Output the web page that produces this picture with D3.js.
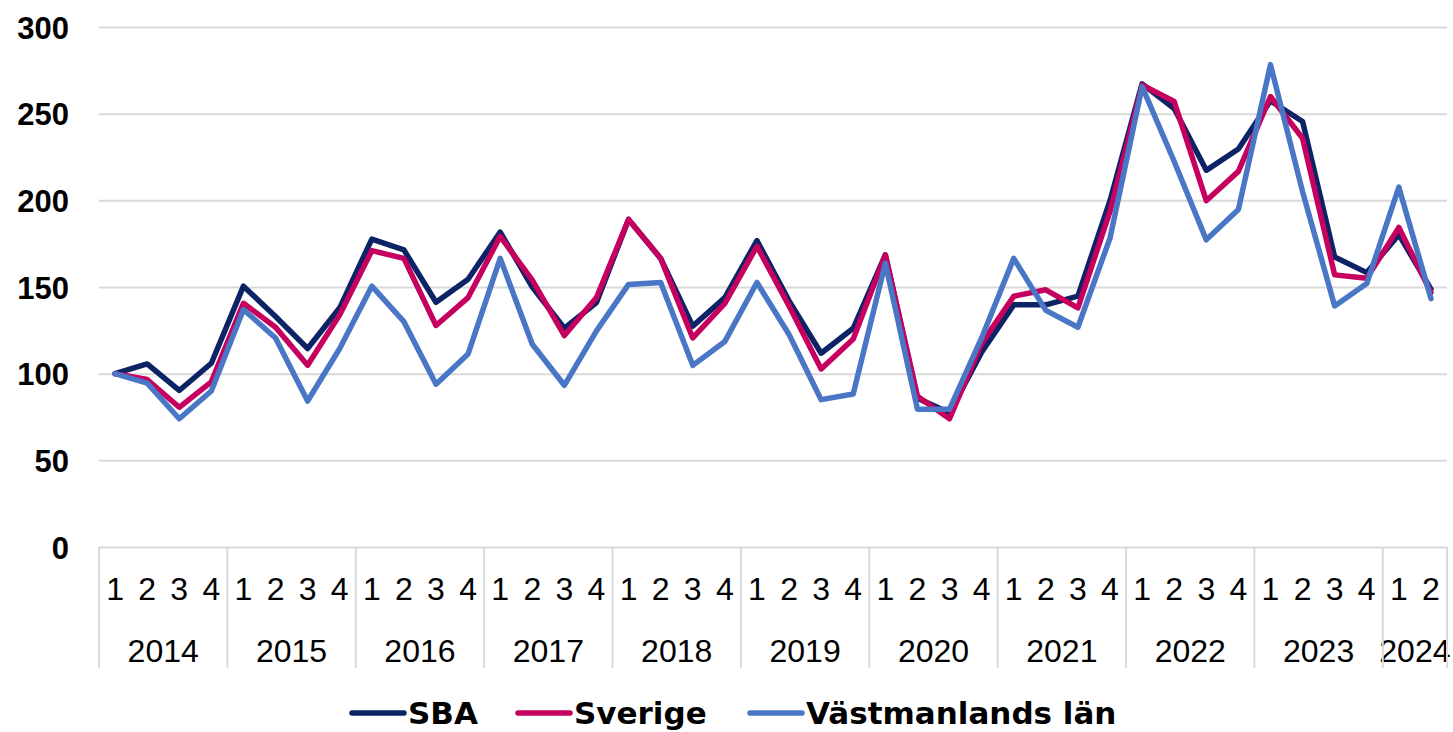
<!DOCTYPE html>
<html lang="sv">
<head>
  <meta charset="UTF-8">
  <title>SBA, Sverige, Västmanlands län</title>
  <script src="https://d3js.org/d3.v7.min.js"></script>
  <style>
    body { margin: 0; padding: 0; background: #fff; }
    svg { display: block; }
    .ylab { font-family: "Liberation Sans", Arial, sans-serif; font-weight: bold; font-size: 31px; fill: #000; }
    .xlab { font-family: "Liberation Sans", Arial, sans-serif; font-size: 32px; fill: #000; }
    .leg { font-family: "DejaVu Sans", sans-serif; font-weight: bold; font-size: 31px; fill: #000; }
  </style>
</head>
<body>
  <svg width="1453" height="732"></svg>
  <script>
    // years and quarter labels on the category axis
    const years = ["2014", "2015", "2016", "2017", "2018", "2019", "2020", "2021", "2022", "2023", "2024"];
    const quartersInYear = [4, 4, 4, 4, 4, 4, 4, 4, 4, 4, 2];
    const yTicks = [0, 50, 100, 150, 200, 250, 300];

    const sba = [100, 105.6, 90.3, 106, 150.5, 133, 114.5, 138, 177.6, 171.4, 141.2, 154.5,
      181.7, 150, 126.2, 141, 189, 166.5, 127.4, 143.9, 176.8, 142, 111.8, 126.2,
      168.5, 85.8, 77.4, 112.4, 139.7, 139.7, 144.7, 199.8, 267.2, 253, 217.3, 229.6,
      257.4, 245.5, 167.3, 158.3, 180.2, 148.8];
    const sverige = [100, 96.6, 80.6, 95.3, 140.6, 126.8, 104.8, 134, 171, 166.5, 127.8, 143.9,
      179.2, 154, 122, 143.9, 189, 166.5, 120.6, 140.6, 173.5, 139, 102.7, 120,
      168.5, 87, 74, 117.5, 144.7, 148.4, 138, 193.6, 266.5, 257, 199.8, 216.7,
      259.9, 235.8, 157, 155, 184.4, 146.8];
    const vastmanland = [100, 94.5, 74, 90, 137, 120.6, 84.2, 114.5, 150.5, 130, 93.9, 111.4,
      166.5, 117, 93.3, 124.7, 151.5, 152.6, 104.8, 118.6, 152.6, 122.6, 85, 88.3,
      163.8, 79.5, 79.5, 120.6, 166.5, 136.5, 126.8, 178.2, 265.6, 222.4, 177.2, 194.7,
      278.3, 205, 139.1, 152, 207.6, 143.3];

    const seriesNames = ["SBA", "Sverige", "Västmanlands län"];
    const seriesColors = ["#0c2366", "#c6005e", "#4a76c6"];

    // build the category list (year + quarter)
    const cats = [];
    years.forEach((yr, i) => {
      for (let q = 1; q <= quartersInYear[i]; q++) cats.push({ year: yr, q: q, key: yr + "-" + q });
    });

    const mLeft = 99, mRight = 1447, mTop = 27, mBottom = 547;
    const svg = d3.select("svg");

    const x = d3.scaleBand().domain(cats.map(d => d.key)).range([mLeft, mRight]);
    const y = d3.scaleLinear().domain([0, 300]).range([mBottom, mTop]);

    // gridlines + y labels
    const yAxis = svg.append("g")
      .attr("transform", `translate(${mLeft},0)`)
      .call(d3.axisLeft(y).tickValues(yTicks).tickSize(-(mRight - mLeft)).tickPadding(0));
    yAxis.select(".domain").remove();
    yAxis.selectAll(".tick line").attr("stroke", "#d9d9d9").attr("stroke-width", 2);
    yAxis.selectAll(".tick text")
      .attr("class", "ylab")
      .attr("x", -30)
      .attr("dy", "0.36em")
      .attr("text-anchor", "end");

    // category axis: quarters and year groups
    const xg = svg.append("g");
    xg.selectAll("text.q")
      .data(cats)
      .join("text")
      .attr("class", "xlab")
      .attr("x", d => x(d.key) + x.bandwidth() / 2)
      .attr("y", 600)
      .attr("text-anchor", "middle")
      .text(d => d.q);

    const groups = years.map(yr => {
      const ks = cats.filter(c => c.year === yr);
      return { year: yr, x0: x(ks[0].key), x1: x(ks[ks.length - 1].key) + x.bandwidth() };
    });
    xg.selectAll("text.yr")
      .data(groups)
      .join("text")
      .attr("class", "xlab")
      .attr("x", d => (d.x0 + d.x1) / 2)
      .attr("y", 662)
      .attr("text-anchor", "middle")
      .text(d => d.year);

    const seps = groups.map(g => g.x0).concat([mRight]);
    xg.selectAll("line.sep")
      .data(seps)
      .join("line")
      .attr("x1", d => d).attr("x2", d => d)
      .attr("y1", mBottom).attr("y2", 668)
      .attr("stroke", "#d9d9d9").attr("stroke-width", 2);

    // lines
    const allSeries = [sba, sverige, vastmanland];
    const line = d3.line()
      .x((d, i) => x(cats[i].key) + x.bandwidth() / 2)
      .y(d => y(d));

    svg.append("g")
      .selectAll("path")
      .data(allSeries)
      .join("path")
      .attr("d", d => line(d))
      .attr("fill", "none")
      .attr("stroke", (d, i) => seriesColors[i])
      .attr("stroke-width", 5.5)
      .attr("stroke-linejoin", "round")
      .attr("stroke-linecap", "round");

    // legend
    const legX = [352, 518, 750];
    const leg = svg.append("g")
      .selectAll("g")
      .data(seriesNames)
      .join("g")
      .attr("transform", (d, i) => `translate(${legX[i]},713)`);
    leg.append("line")
      .attr("x1", 0).attr("x2", 52)
      .attr("stroke", (d, i) => seriesColors[i])
      .attr("stroke-width", 5.5)
      .attr("stroke-linecap", "round");
    leg.append("text")
      .attr("class", "leg")
      .attr("x", 56)
      .attr("dy", "0.36em")
      .text(d => d);
  </script>
</body>
</html>
